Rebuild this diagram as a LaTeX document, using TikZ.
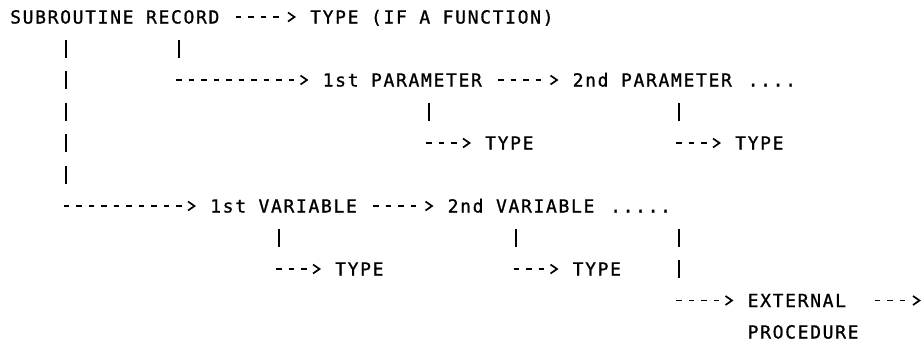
\documentclass[tikz,border=0pt]{standalone}
\usepackage{fontspec}
\newfontfamily\diagfont[LetterSpace=9.24,FakeBold=1]{DejaVu Sans Mono}
\newcommand\chevat[1]{\draw[chev] #1 ++(3,-4.5) -- ++(6.5,4.5) -- ++(-6.5,4.5);}
\begin{document}
\begin{tikzpicture}[x=1pt,y=-1pt,
  lbl/.style={anchor=west, inner sep=0pt, text height=13pt, text depth=0pt,
              font=\diagfont\fontsize{18pt}{20pt}\selectfont, text=black},
  hdash/.style={line width=1.9pt, dash pattern=on 5.5pt off 7pt, dash phase=9pt},
  pipe/.style={line width=1.9pt, dash pattern=on 18pt off 13.5pt},
  chev/.style={line width=1.7pt, line join=miter}]
\fill[white] (0,0) rectangle (923,343);
\useasboundingbox (0,0) rectangle (923,343);

% text nodes
\node[lbl] (sub)    at (10,17)      {SUBROUTINE RECORD};
\node[lbl] (ftype)  at (310,17)     {TYPE (IF A FUNCTION)};
\node[lbl] (par1)   at (322.5,80)   {1st PARAMETER};
\node[lbl] (par2)   at (572.5,80)   {2nd PARAMETER};
\node[lbl] (pdots)  at (747.5,80)   {....};
\node[lbl] (ptype1) at (485,143)    {TYPE};
\node[lbl] (ptype2) at (735,143)    {TYPE};
\node[lbl] (var1)   at (210,206)    {1st VARIABLE};
\node[lbl] (var2)   at (447.5,206)  {2nd VARIABLE};
\node[lbl] (vdots)  at (610,206)    {.....};
\node[lbl] (vtype1) at (335,269)    {TYPE};
\node[lbl] (vtype2) at (572.5,269)  {TYPE};
\node[lbl] (ext)    at (747.5,300.5) {EXTERNAL};
\node[lbl] (proc)   at (747.5,332)  {PROCEDURE};

% corners (pipe centre, row of the horizontal branch)
\coordinate (cA) at (66.25,206);
\coordinate (cB) at (178.75,80);
\coordinate (cC) at (428.75,143);
\coordinate (cD) at (678.75,143);
\coordinate (cE) at (278.75,269);
\coordinate (cF) at (516.25,269);
\coordinate (cG) at (678.75,300.5);
\coordinate (out) at (910,300.5);

% straight horizontal connectors
\draw[hdash] ([xshift=12.5pt]sub.east) -- ([xshift=-25pt]ftype.west);
\chevat{([xshift=-25pt]ftype.west)}
\draw[hdash] ([xshift=12.5pt]par1.east) -- ([xshift=-25pt]par2.west);
\chevat{([xshift=-25pt]par2.west)}
\draw[hdash] ([xshift=12.5pt]var1.east) -- ([xshift=-25pt]var2.west);
\chevat{([xshift=-25pt]var2.west)}
\draw[hdash] ([xshift=25pt]ext.east) -- (out);
\chevat{(out)}

% L-shaped connectors: pipes down, then dashes right
\draw[pipe, shorten <=16pt] (cA |- sub.south) -- ([yshift=22.5pt]cA);
\draw[hdash] ([xshift=-6.25pt]cA) -- ([xshift=-25pt]var1.west);
\chevat{([xshift=-25pt]var1.west)}

\draw[pipe, shorten <=16pt] (cB |- sub.south) -- ([yshift=22.5pt]cB);
\draw[hdash] ([xshift=-6.25pt]cB) -- ([xshift=-25pt]par1.west);
\chevat{([xshift=-25pt]par1.west)}

\draw[pipe, shorten <=16pt] (cC |- par1.south) -- ([yshift=22.5pt]cC);
\draw[hdash] ([xshift=-6.25pt]cC) -- ([xshift=-25pt]ptype1.west);
\chevat{([xshift=-25pt]ptype1.west)}

\draw[pipe, shorten <=16pt] (cD |- par2.south) -- ([yshift=22.5pt]cD);
\draw[hdash] ([xshift=-6.25pt]cD) -- ([xshift=-25pt]ptype2.west);
\chevat{([xshift=-25pt]ptype2.west)}

\draw[pipe, shorten <=16pt] (cE |- var1.south) -- ([yshift=22.5pt]cE);
\draw[hdash] ([xshift=-6.25pt]cE) -- ([xshift=-25pt]vtype1.west);
\chevat{([xshift=-25pt]vtype1.west)}

\draw[pipe, shorten <=16pt] (cF |- var2.south) -- ([yshift=22.5pt]cF);
\draw[hdash] ([xshift=-6.25pt]cF) -- ([xshift=-25pt]vtype2.west);
\chevat{([xshift=-25pt]vtype2.west)}

\draw[pipe, shorten <=16pt] (cG |- vdots.south) -- ([yshift=22.5pt]cG);
\draw[hdash] ([xshift=-6.25pt]cG) -- ([xshift=-25pt]ext.west);
\chevat{([xshift=-25pt]ext.west)}
\end{tikzpicture}
\end{document}
